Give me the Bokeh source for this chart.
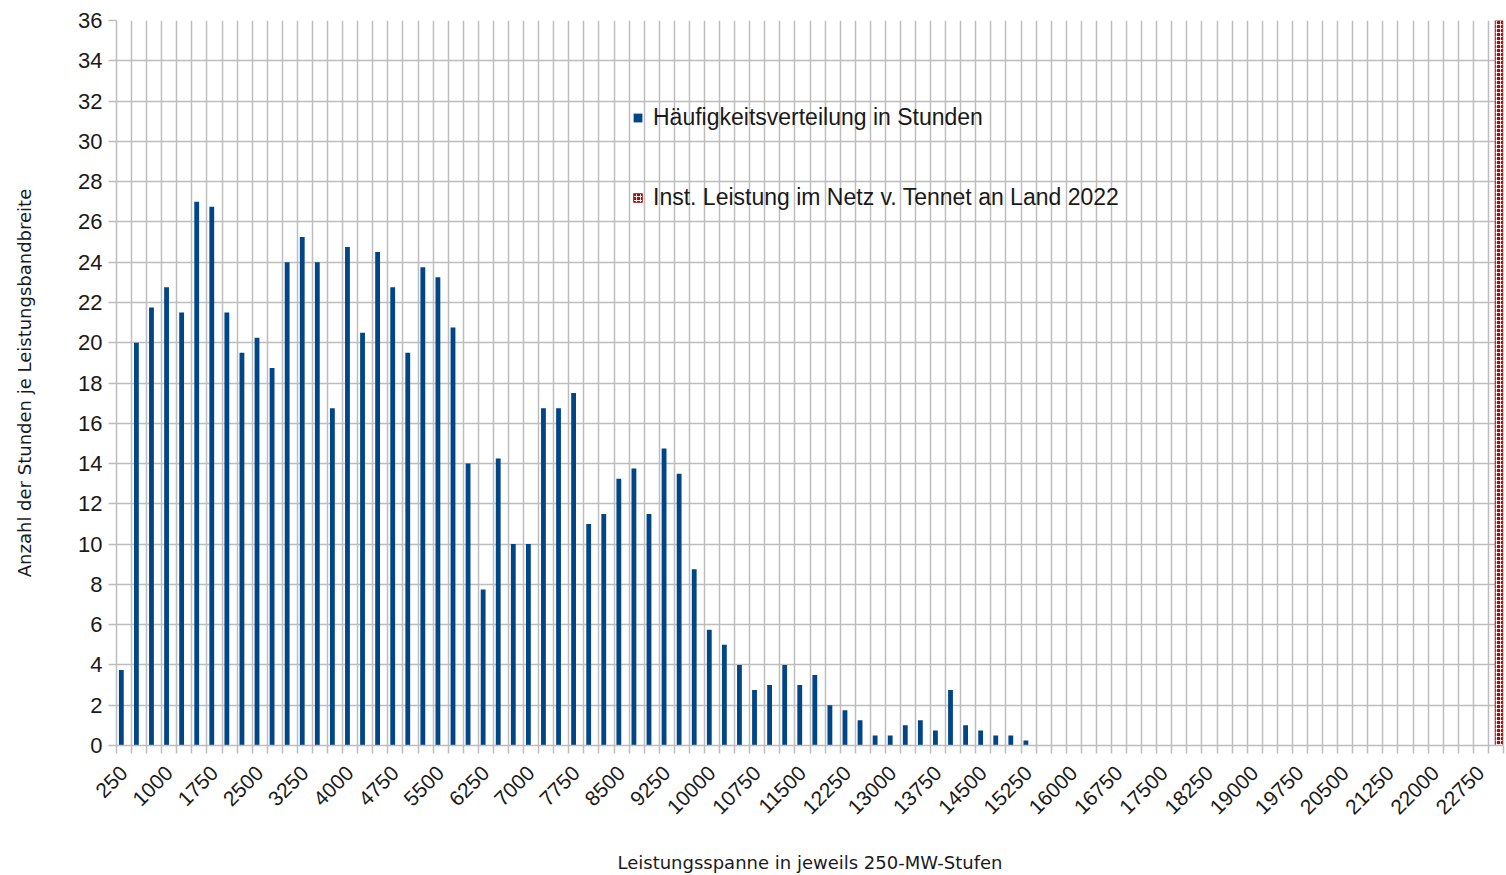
from math import pi
import numpy as np
from bokeh.plotting import figure
from bokeh.models import FixedTicker, Legend, LegendItem, ColumnDataSource
from bokeh.embed import file_html
from bokeh.resources import INLINE

# ---- data ----
categories = list(range(250, 23001, 250))  # 92 power bands (MW)
hours = [3.75, 20.0, 21.75, 22.75, 21.5, 27.0, 26.75, 21.5, 19.5, 20.25,
         18.75, 24.0, 25.25, 24.0, 16.75, 24.75, 20.5, 24.5, 22.75, 19.5,
         23.75, 23.25, 20.75, 14.0, 7.75, 14.25, 10.0, 10.0, 16.75, 16.75,
         17.5, 11.0, 11.5, 13.25, 13.75, 11.5, 14.75, 13.5, 8.75, 5.75,
         5.0, 4.0, 2.75, 3.0, 4.0, 3.0, 3.5, 2.0, 1.75, 1.25,
         0.5, 0.5, 1.0, 1.25, 0.75, 2.75, 1.0, 0.75, 0.5, 0.5,
         0.25] + [0.0] * 31
installed_category = 23000
installed_value = 36
y_ticks = list(range(0, 37, 2))
series_names = ["Häufigkeitsverteilung in Stunden",
                "Inst. Leistung im Netz v. Tennet an Land 2022"]
x_title = "Leistungsspanne in jeweils 250-MW-Stufen"
y_title = "Anzahl der Stunden je Leistungsbandbreite"

idx = np.arange(len(categories))
src1 = ColumnDataSource(dict(x=idx + 0.32, top=hours))
inst_idx = categories.index(installed_category)
src2 = ColumnDataSource(dict(x=[inst_idx + 0.71], top=[installed_value]))

p = figure(frame_width=1387, frame_height=725, width=1506, height=875,
           min_border_left=116, min_border_right=3, min_border_top=20,
           min_border_bottom=130,
           x_range=(0, len(categories)), y_range=(0, 36),
           output_backend="svg", toolbar_location=None,
           background_fill_color="white", border_fill_color="white")
p.outline_line_color = None

r1 = p.vbar(x="x", top="top", width=0.32, bottom=0, source=src1,
            fill_color="#004586", line_color=None)
r2 = p.vbar(x="x", top="top", width=0.52, bottom=0, source=src2,
            fill_color="white", line_color="#b03030", line_width=1,
            hatch_pattern="ring", hatch_color="#8b0a0a", hatch_scale=4,
            hatch_weight=1.6)

grid_col = "#bdbdbd"
label_idx = [i for i in range(len(categories)) if i % 3 == 0]
xt = FixedTicker(ticks=[i + 0.5 for i in label_idx],
                 minor_ticks=list(range(len(categories) + 1)))
p.xaxis.ticker = xt
p.xaxis.major_label_overrides = {i + 0.5: str(categories[i]) for i in label_idx}
p.xaxis.major_label_orientation = pi / 4
p.xaxis.major_tick_line_color = None
p.xaxis.minor_tick_line_color = grid_col
p.xaxis.minor_tick_line_width = 1.5
p.xaxis.minor_tick_out = 8
p.xaxis.minor_tick_in = 0
p.xaxis.axis_line_color = grid_col
p.xaxis.axis_line_width = 1.5
p.xaxis.major_label_text_font = "Liberation Sans"
p.xaxis.major_label_text_font_size = "21px"
p.xaxis.major_label_text_color = "#1a1a1a"
p.xaxis.major_label_standoff = 16
p.xaxis.axis_label = x_title
p.xaxis.axis_label_text_font = "DejaVu Sans"
p.xaxis.axis_label_text_font_size = "18px"
p.xaxis.axis_label_text_font_style = "normal"
p.xaxis.axis_label_text_color = "#1a1a1a"
p.xaxis.axis_label_standoff = 28

p.yaxis.ticker = FixedTicker(ticks=y_ticks)
p.yaxis.major_tick_line_color = grid_col
p.yaxis.major_tick_line_width = 1.5
p.yaxis.major_tick_out = 8
p.yaxis.major_tick_in = 0
p.yaxis.minor_tick_line_color = None
p.yaxis.axis_line_color = grid_col
p.yaxis.axis_line_width = 1.5
p.yaxis.major_label_text_font = "Liberation Sans"
p.yaxis.major_label_text_font_size = "22px"
p.yaxis.major_label_text_color = "#1a1a1a"
p.yaxis.major_label_standoff = 6
p.yaxis.axis_label = y_title
p.yaxis.axis_label_text_font = "DejaVu Sans"
p.yaxis.axis_label_text_font_size = "18px"
p.yaxis.axis_label_text_font_style = "normal"
p.yaxis.axis_label_text_color = "#1a1a1a"
p.yaxis.axis_label_standoff = 40

p.xgrid.ticker = FixedTicker(ticks=list(range(len(categories) + 1)))
p.xgrid.grid_line_color = grid_col
p.xgrid.grid_line_width = 1.5
p.ygrid.ticker = FixedTicker(ticks=y_ticks)
p.ygrid.grid_line_color = grid_col
p.ygrid.grid_line_width = 1.5

legend = Legend(items=[LegendItem(label=series_names[0], renderers=[r1]),
                       LegendItem(label=series_names[1], renderers=[r2])],
                location=(516, 534), padding=0, margin=0, spacing=53,
                glyph_width=11, glyph_height=11, label_height=24,
                label_standoff=10, background_fill_alpha=0,
                border_line_color=None,
                label_text_font="Liberation Sans",
                label_text_font_size="23px", label_text_color="#1a1a1a")
p.add_layout(legend, "center")

open("out.html", "w").write(file_html(p, INLINE))
